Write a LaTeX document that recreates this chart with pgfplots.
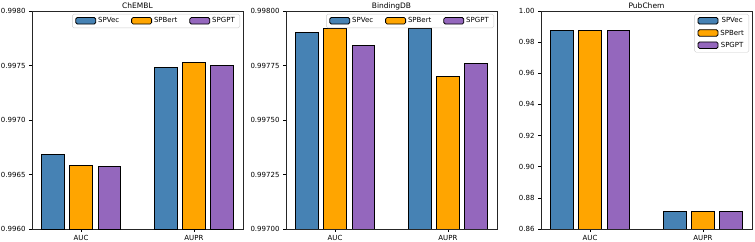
\documentclass[border=0pt]{standalone}
\usepackage{fontspec}
\setmainfont{DejaVu Sans}
\usepackage{pgfplots}
\pgfplotsset{compat=1.18}
\definecolor{cA}{RGB}{70,130,180}
\definecolor{cB}{RGB}{255,165,0}
\definecolor{cC}{RGB}{148,103,189}
\pgfplotsset{
 panel/.style={
  scale only axis, width=211pt, height=218pt,
  anchor=south west,
  ybar, bar width=0.2,
  xmin=-0.435, xmax=1.435,
  xtick={0,1}, xticklabels={AUC,AUPR},
  tick align=outside, tick pos=left,
  major tick length=3pt,
  every tick/.style={black, line width=0.6pt},
  axis line style={line width=0.6pt, black!85},
  tick label style={font=\fontsize{7}{8}\selectfont},
  /pgf/number format/assume math mode=true,
  scaled y ticks=false,
  title style={font=\fontsize{7.5}{9}\selectfont, at={(0.5,1)}, anchor=base, yshift=-3.5pt},
  legend style={font=\fontsize{7}{8}\selectfont, draw=black!20, rounded corners=1.5pt,
    at={(1,1)}, anchor=north east, xshift=-3pt, yshift=-3pt, inner xsep=3pt, inner ysep=1.5pt,
    row sep=1.5pt},
  legend image code/.code={\draw[##1] (0pt,-3pt) rectangle (20pt,3.5pt);},
  every axis plot/.append style={draw=black, line width=0.8pt},
 }
}
\begin{document}
\begin{tikzpicture}
\path[use as bounding box] (0,0) rectangle (755pt,241pt);
% ChEMBL
\begin{axis}[panel, at={(32pt,12pt)}, title={ChEMBL},
  ymin=0.996, ymax=0.998,
  ytick={0.996,0.9965,0.997,0.9975,0.998},
  yticklabel style={/pgf/number format/.cd, fixed, fixed zerofill, precision=4},
  legend columns=3,
  legend style={/tikz/every even column/.append style={column sep=10pt}}]
\addplot[fill=cA, bar shift=-0.25] coordinates {(0,0.99668) (1,0.99748)};
\addplot[fill=cB, bar shift=0] coordinates {(0,0.99658) (1,0.99753)};
\addplot[fill=cC, bar shift=0.25] coordinates {(0,0.99657) (1,0.99750)};
\legend{SPVec,SPBert,SPGPT}
\end{axis}
% BindingDB
\begin{axis}[panel, at={(286pt,12pt)}, title={BindingDB},
  ymin=0.997, ymax=0.998,
  ytick={0.997,0.99725,0.9975,0.99775,0.998},
  yticklabel style={/pgf/number format/.cd, fixed, fixed zerofill, precision=5},
  legend columns=3,
  legend style={/tikz/every even column/.append style={column sep=10pt}}]
\addplot[fill=cA, bar shift=-0.25] coordinates {(0,0.99790) (1,0.99792)};
\addplot[fill=cB, bar shift=0] coordinates {(0,0.99792) (1,0.99770)};
\addplot[fill=cC, bar shift=0.25] coordinates {(0,0.99784) (1,0.99776)};
\legend{SPVec,SPBert,SPGPT}
\end{axis}
% PubChem
\begin{axis}[panel, at={(541pt,12pt)}, title={PubChem},
  ymin=0.86, ymax=1.0,
  ytick={0.86,0.88,0.90,0.92,0.94,0.96,0.98,1.00},
  yticklabel style={/pgf/number format/.cd, fixed, fixed zerofill, precision=2}]
\addplot[fill=cA, bar shift=-0.25] coordinates {(0,0.9874) (1,0.8711)};
\addplot[fill=cB, bar shift=0] coordinates {(0,0.9874) (1,0.8711)};
\addplot[fill=cC, bar shift=0.25] coordinates {(0,0.9874) (1,0.8711)};
\legend{SPVec,SPBert,SPGPT}
\end{axis}
\end{tikzpicture}
\end{document}
